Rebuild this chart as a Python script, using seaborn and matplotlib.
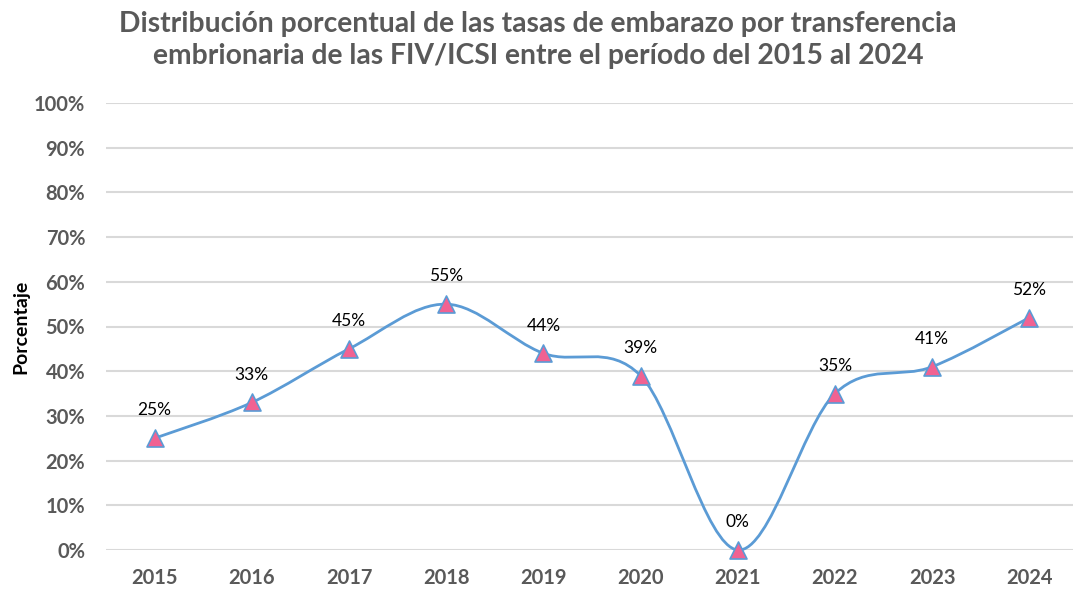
import numpy as np
import pandas as pd
import seaborn as sns
import matplotlib.pyplot as plt
from matplotlib.path import Path
from matplotlib.patches import PathPatch

years = ['2015', '2016', '2017', '2018', '2019', '2020', '2021', '2022', '2023', '2024']
tasas = [0.25, 0.33, 0.45, 0.55, 0.44, 0.39, 0.00, 0.35, 0.41, 0.52]
labels = ['25%', '33%', '45%', '55%', '44%', '39%', '0%', '35%', '41%', '52%']
yticks = [0, 0.1, 0.2, 0.3, 0.4, 0.5, 0.6, 0.7, 0.8, 0.9, 1.0]

title = ('Distribución porcentual de las tasas de embarazo por transferencia\n'
         'embrionaria de las FIV/ICSI entre el período del 2015 al 2024')

line_col = '#5B9BD5'
mark_col = '#F06292'
grey = '#595959'

sns.set_theme(style='white')
plt.rcParams['font.family'] = ['Lato', 'DejaVu Sans']

d = pd.DataFrame({'year': years, 'x': range(len(years)), 'tasa': tasas})

W, H = 1073, 595
fig = plt.figure(figsize=(W / 100, H / 100), dpi=100)
ax = fig.add_axes([106 / W, 45 / H, 972 / W, 447 / H])

# smoothed line (Excel style bezier through the points)
pts = np.column_stack([d['x'].values, d['tasa'].values]).astype(float)
ext = np.vstack([pts[0], pts, pts[-1]])
verts = [tuple(pts[0])]
codes = [Path.MOVETO]
for i in range(len(pts) - 1):
    p0, p1, p2, p3 = ext[i], ext[i + 1], ext[i + 2], ext[i + 3]
    c1 = p1 + (p2 - p0) / 6
    c2 = p2 - (p3 - p1) / 6
    verts += [tuple(c1), tuple(c2), tuple(p2)]
    codes += [Path.CURVE4] * 3
ax.add_patch(PathPatch(Path(verts, codes), fill=False, edgecolor=line_col,
                       lw=2.0, clip_on=False, zorder=3))

sns.scatterplot(data=d, x='x', y='tasa', marker='^', s=150, color=mark_col,
                edgecolor=line_col, linewidth=1.2, ax=ax, zorder=4, clip_on=False)

for xi, yi, lab in zip(d['x'], d['tasa'], labels):
    ax.annotate(lab, (xi, yi), xytext=(0, 20), textcoords='offset points',
                ha='center', va='center', fontsize=12.5, color='black')

ax.set_xlim(-0.5, len(years) - 0.5)
ax.set_ylim(0, 1.0)
ax.set_xticks(range(len(years)))
ax.set_xticklabels(years)
ax.set_yticks(yticks)
ax.set_yticklabels([f'{int(round(t * 100))}%' for t in yticks])
ax.tick_params(axis='both', length=0, labelsize=14.5, labelcolor=grey)
ax.tick_params(axis='x', pad=13)
ax.tick_params(axis='y', pad=15)
for t in ax.get_xticklabels() + ax.get_yticklabels():
    t.set_fontweight('bold')
ax.grid(axis='y', color='#D9D9D9', lw=1.5)
ax.set_axisbelow(True)
for s in ax.spines.values():
    s.set_visible(False)

ax.set_xlabel('')
ax.set_ylabel('Porcentaje', fontsize=14, fontweight='bold', color='black')
ax.yaxis.set_label_coords((29 - 106) / 972, 0.5)

fig.text(538 / W, 1 - 40 / H, title, ha='center', va='center', fontsize=20.3,
         fontweight='bold', color=grey, linespacing=1.25)

fig.savefig('out.png', dpi=100)
